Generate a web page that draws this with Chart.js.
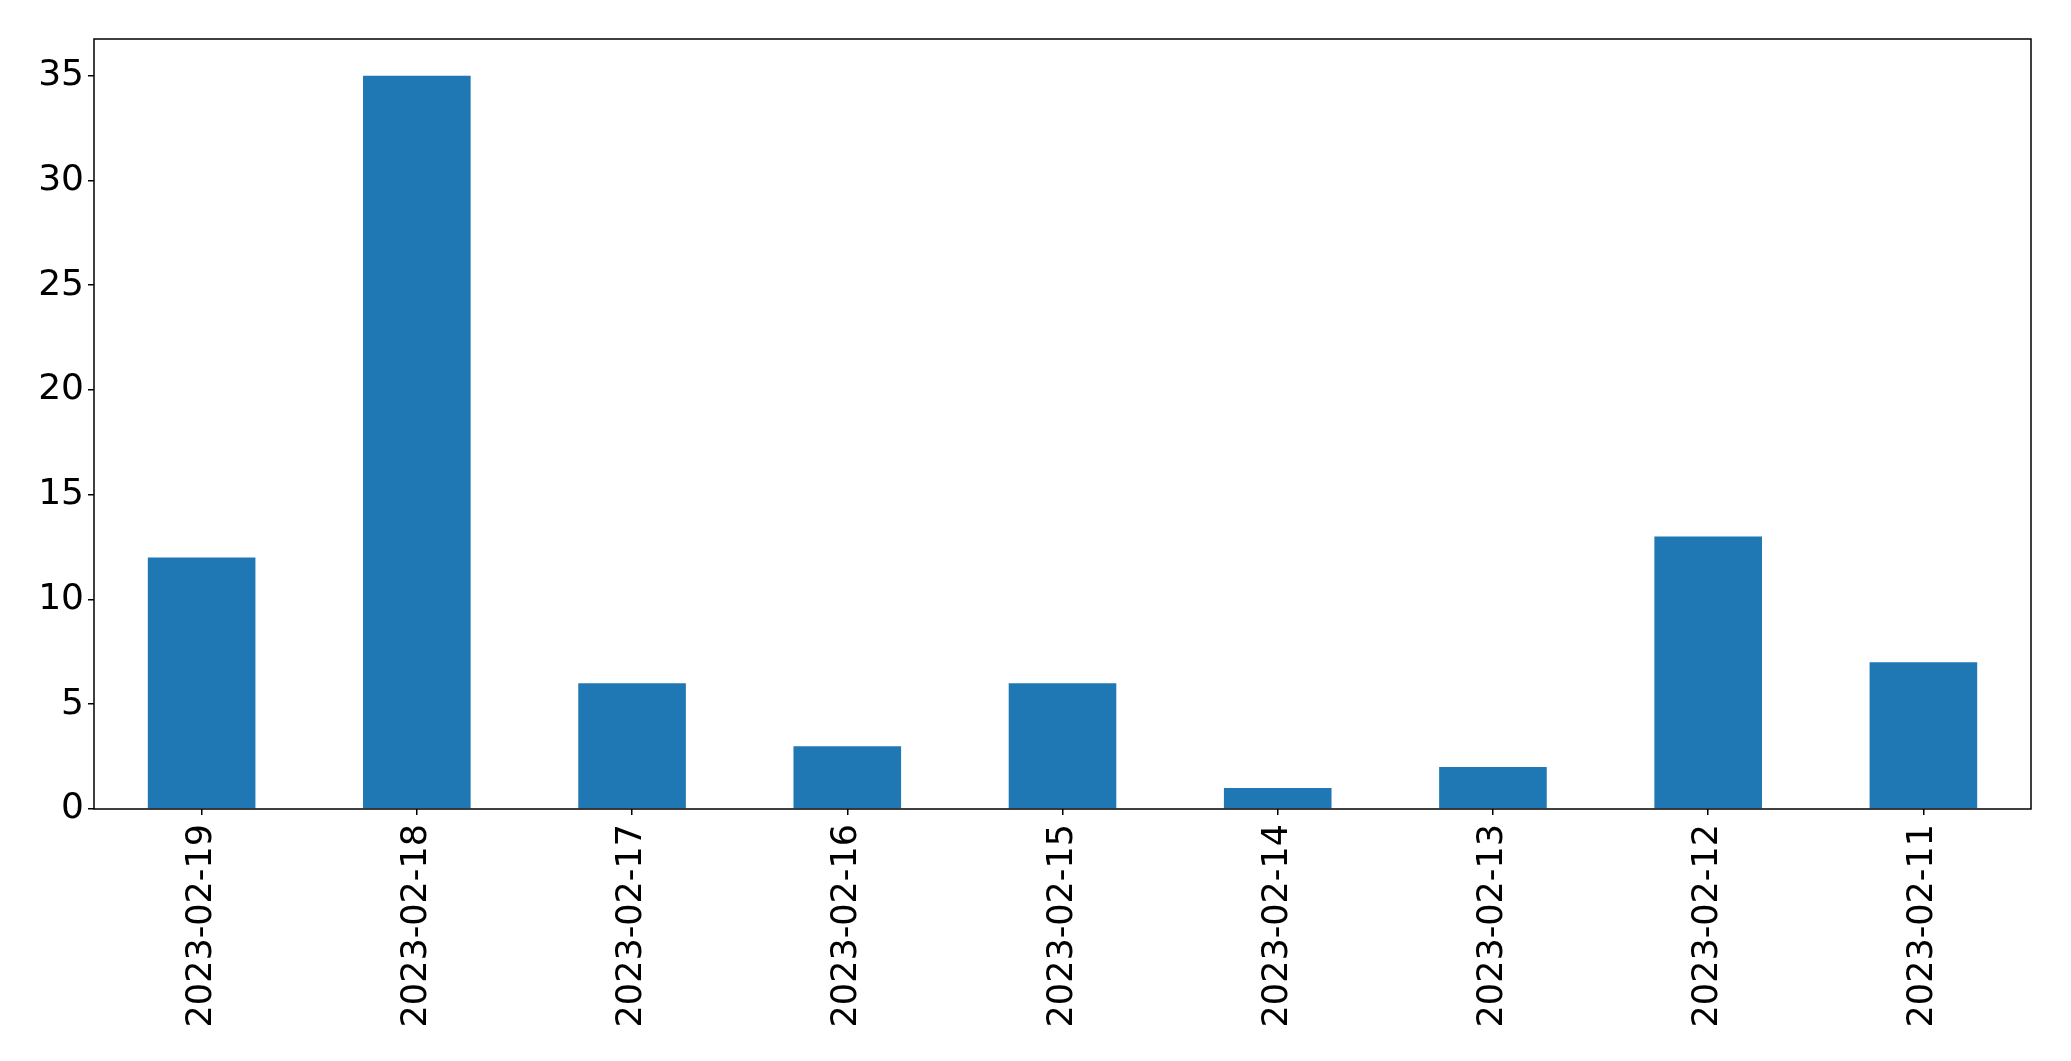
<!DOCTYPE html>
<html>
<head>
<meta charset="utf-8">
<script src="https://cdn.jsdelivr.net/npm/chart.js@4/dist/chart.umd.min.js"></script>
<style>
  html, body { margin: 0; padding: 0; background: #fff; }
  #wrap { width: 2071px; height: 1061px; }
</style>
</head>
<body>
<div id="wrap"><canvas id="chart" width="2071" height="1061"></canvas></div>
<script>
// données
const dates = ['2023-02-19', '2023-02-18', '2023-02-17', '2023-02-16', '2023-02-15', '2023-02-14', '2023-02-13', '2023-02-12', '2023-02-11'];
const counts = [12, 35, 6, 3, 6, 1, 2, 13, 7];
const yTicks = [0, 5, 10, 15, 20, 25, 30, 35];

const FONT = { family: 'DejaVu Sans', size: 35 };

// cadre complet autour de la zone de tracé (style matplotlib)
const framePlugin = {
  id: 'frame',
  afterDraw(chart) {
    const { ctx, chartArea: a } = chart;
    ctx.save();
    ctx.strokeStyle = '#000';
    ctx.lineWidth = 1.5;
    ctx.strokeRect(a.left, a.top, a.right - a.left, a.bottom - a.top);
    ctx.restore();
  }
};

new Chart(document.getElementById('chart'), {
  type: 'bar',
  data: {
    labels: dates,
    datasets: [{ data: counts, backgroundColor: '#1f77b4', barPercentage: 0.5, categoryPercentage: 1.0 }]
  },
  options: {
    responsive: false,
    animation: false,
    devicePixelRatio: 1,
    layout: { padding: { top: 39, right: 40, left: 0, bottom: 0 } },
    plugins: { legend: { display: false }, tooltip: { enabled: false } },
    scales: {
      x: {
        offset: true,
        grid: { display: true, drawOnChartArea: false, offset: false, tickLength: 6, color: '#000', lineWidth: 1.5 },
        border: { display: false },
        ticks: { color: '#000', font: FONT, maxRotation: 90, minRotation: 90, padding: 9, autoSkip: false },
        afterFit(scale) { scale.height = 252; }
      },
      y: {
        min: 0,
        max: 36.75,
        afterBuildTicks(scale) { scale.ticks = yTicks.map(v => ({ value: v })); },
        grid: { display: true, drawOnChartArea: false, tickLength: 6, color: '#000', lineWidth: 1.5 },
        border: { display: false },
        ticks: { color: '#000', font: { family: 'DejaVu Sans', size: 36 }, padding: 4 },
        afterFit(scale) { scale.width = 94; }
      }
    }
  },
  plugins: [framePlugin]
});
</script>
</body>
</html>
